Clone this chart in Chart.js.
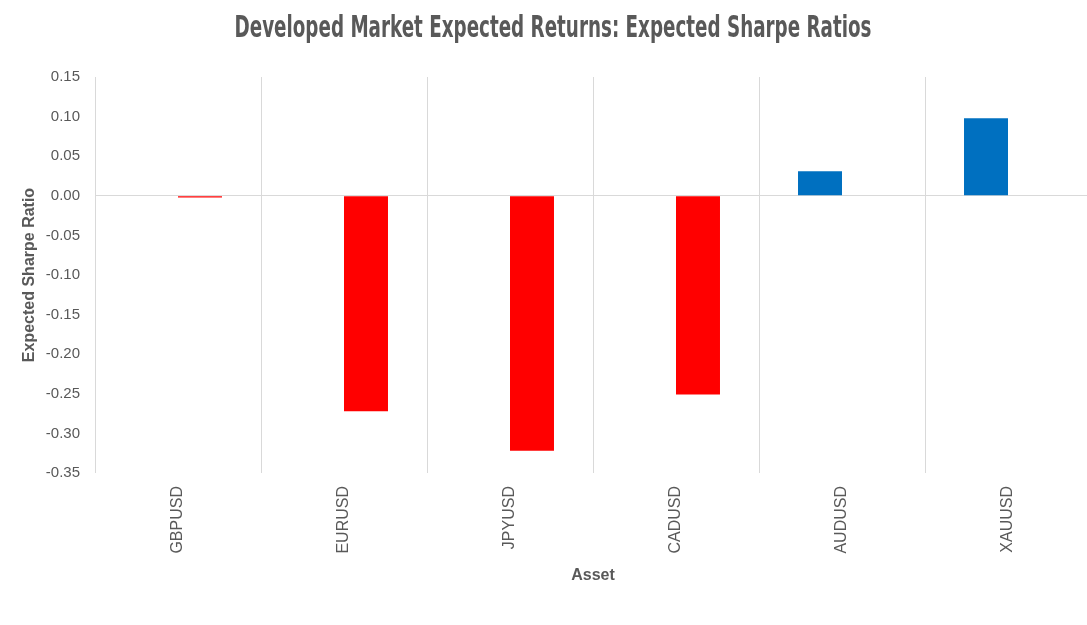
<!DOCTYPE html>
<html>
<head>
<meta charset="utf-8">
<script src="https://cdn.jsdelivr.net/npm/chart.js@4"></script>
<style>
html,body{margin:0;padding:0;overflow:hidden;background:#fff;}
#wrap{width:1092px;height:625px;position:relative;}
</style>
</head>
<body>
<div id="wrap"><canvas id="c"></canvas></div>
<script>
const chartTitle = 'Developed Market Expected Returns: Expected Sharpe Ratios';
const categories = ["GBPUSD","EURUSD","JPYUSD","CADUSD","AUDUSD","XAUUSD"];
const sharpeValues = [-0.002, -0.272, -0.322, -0.251, 0.031, 0.098];
const yTicks = [0.15, 0.10, 0.05, 0.00, -0.05, -0.10, -0.15, -0.20, -0.25, -0.30, -0.35];

const positive = sharpeValues.map(v => v >= 0 ? v : null);
const negative = sharpeValues.map(v => v < 0 ? v : null);

const grey = '#595959';
const gridCol = '#d9d9d9';

const titlePlugin = {
  id: 'condensedTitle',
  afterDraw(chart) {
    const ctx = chart.ctx;
    ctx.save();
    ctx.font = 'bold 30px "DejaVu Sans Condensed", "DejaVu Sans", sans-serif';
    ctx.fillStyle = grey;
    ctx.textAlign = 'center';
    ctx.textBaseline = 'alphabetic';
    const w = ctx.measureText(chartTitle).width;
    const sx = 637 / w;
    ctx.translate(553, 37);
    ctx.scale(sx, 1);
    ctx.fillText(chartTitle, 0, 0);
    ctx.restore();
  }
};

new Chart(document.getElementById('c'), {
  type: 'bar',
  data: {
    labels: categories,
    datasets: [
      { label: 'Positive', data: positive, backgroundColor: '#0070C0', categoryPercentage: 0.53, barPercentage: 1.0 },
      { label: 'Negative', data: negative, backgroundColor: '#FF0000', categoryPercentage: 0.53, barPercentage: 1.0 }
    ]
  },
  plugins: [titlePlugin],
  options: {
    responsive: true,
    maintainAspectRatio: false,
    animation: false,
    layout: { padding: { left: 0, right: 1, top: 77, bottom: 0 } },
    plugins: {
      legend: { display: false },
      tooltip: { enabled: false },
      title: { display: false }
    },
    scales: {
      x: {
        offset: true,
        afterFit: (scale) => { scale.height = 152; },
        grid: { display: true, offset: true, color: gridCol, drawTicks: false, lineWidth: 1 },
        border: { display: false },
        ticks: {
          color: grey, minRotation: 90, maxRotation: 90, padding: 13,
          font: { family: '"Liberation Sans", Arial, sans-serif', size: 16 }
        },
        title: {
          display: true, text: 'Asset', color: grey,
          font: { family: '"Liberation Sans", Arial, sans-serif', size: 16, weight: 'bold' },
          padding: { top: 4, bottom: 40 }
        }
      },
      y: {
        min: -0.35, max: 0.15,
        afterFit: (scale) => { scale.width = 95; },
        afterBuildTicks: (axis) => { axis.ticks = yTicks.map(v => ({ value: v })); },
        grid: {
          drawTicks: false,
          color: (ctx) => (ctx.tick && Math.abs(ctx.tick.value) < 1e-9) ? gridCol : 'rgba(0,0,0,0)'
        },
        border: { display: false },
        ticks: {
          color: grey, padding: 15,
          font: { family: '"Liberation Sans", Arial, sans-serif', size: 15 },
          callback: (v) => Number(v).toFixed(2)
        },
        title: {
          display: true, text: 'Expected Sharpe Ratio', color: grey,
          font: { family: '"Liberation Sans", Arial, sans-serif', size: 16, weight: 'bold' },
          padding: { top: 20, bottom: 4 }
        }
      }
    }
  }
});
</script>
</body>
</html>
